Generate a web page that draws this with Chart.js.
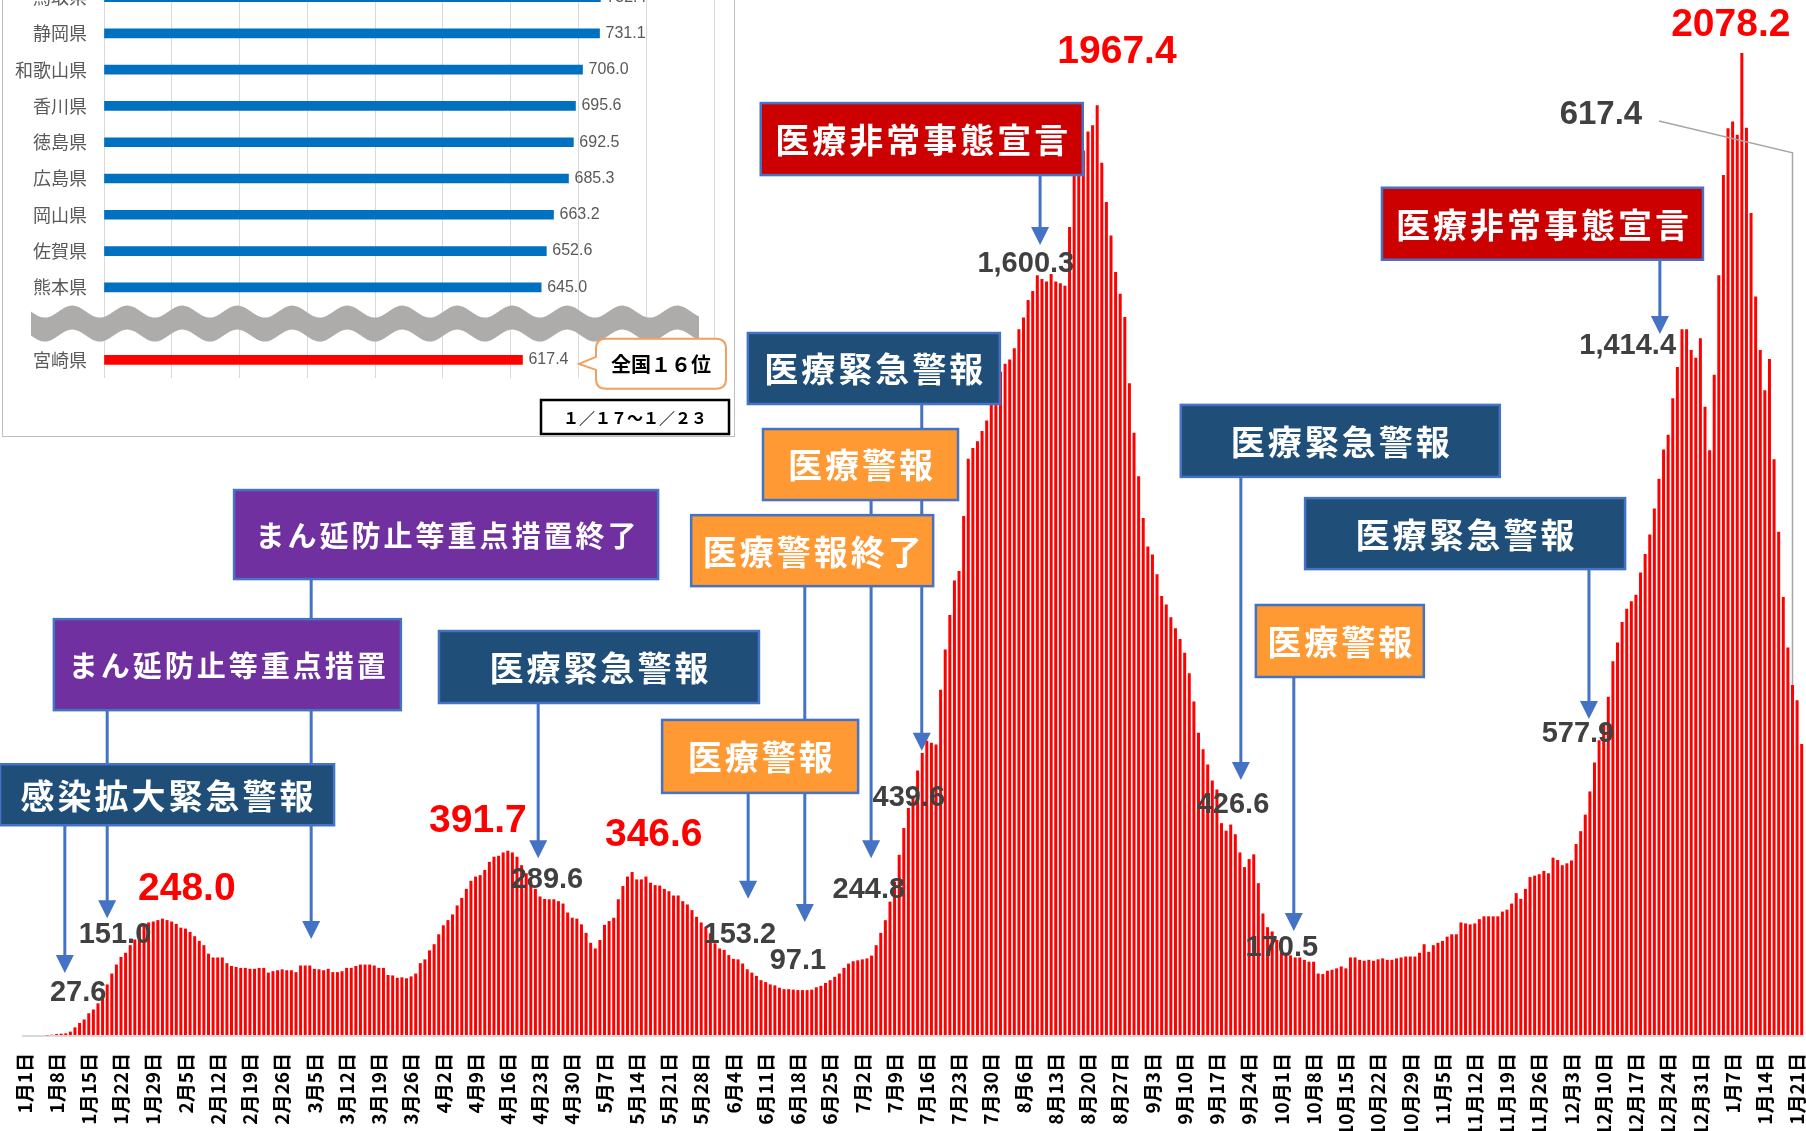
<!DOCTYPE html>
<html lang="ja">
<head>
<meta charset="utf-8">
<title>宮崎県 新規感染者数の推移</title>
<script src="https://cdn.jsdelivr.net/npm/chart.js@4.4.1/dist/chart.umd.min.js"></script>
<style>
  html, body { margin: 0; padding: 0; background: #fff; overflow: hidden; }
  #wrap { position: relative; width: 1806px; height: 1131px; }
  canvas { display: block; }
  #inset { position: absolute; left: 2px; top: -30px; width: 731px; height: 465px;
           border: 1px solid #bfbfbf; background: #fff; }
</style>
</head>
<body>
<div id="wrap">
  <canvas id="main" width="1806" height="1131"></canvas>
  <div id="inset"><canvas id="ranking" width="731" height="465"></canvas></div>
</div>
<script>
// daily values, month by month
const jan = [0, 0, 0, 0, 0, 1.4, 2.8, 4.2, 4.9, 5.6, 9.2, 18.3, 27.6, 35, 48, 56, 69, 85, 109, 132,
  151.0, 167, 176, 192, 204, 229, 234, 240, 242, 245, 248.0];
const feb = [245, 242, 237, 229, 227, 220, 211, 201, 192, 174, 166, 166, 166, 154, 148, 146, 144, 144,
  142, 142, 144, 144, 134, 137, 139, 141, 139, 139];
const mar = [135, 149, 149, 149, 142, 141, 139, 142, 135, 135, 137, 144, 144, 148, 151, 151, 151, 149,
  144, 144, 129, 128, 123, 124, 122, 126, 132, 154, 162, 181, 194];
const apr = [215, 234, 245, 257, 276, 292, 311, 328, 337, 340, 351, 368, 379, 381, 388, 391.7, 388,
  379, 361, 344, 328, 311, 295, 289.6, 289, 289, 285, 280, 261, 250];
const may = [248, 236, 218, 197, 185, 203, 235, 243, 250, 289, 317, 337, 346.6, 331, 331, 337, 324,
  319, 318, 311, 306, 297, 297, 285, 278, 266, 252, 240, 231, 217, 196];
const jun = [185, 182, 171, 163, 162, 153.2, 141, 134, 127, 118, 114, 109, 107, 102, 99, 99, 98, 97.1,
  97, 97, 98, 103, 106, 112, 118, 125, 132, 144, 153, 158];
const jul = [160, 162, 164, 170, 192, 218, 244.8, 284, 326, 383, 439.6, 482, 508, 561, 598, 624, 620,
  616, 732, 817, 890, 963, 983, 1099, 1220, 1243, 1257, 1279, 1301, 1338, 1351];
const aug = [1404, 1421, 1430, 1454, 1494, 1519, 1556, 1575, 1608, 1600.3, 1595, 1611, 1595, 1591,
  1586, 1710, 1852, 1885, 1872, 1912, 1925, 1967.4, 1846, 1763, 1692, 1615, 1569, 1520, 1380, 1275, 1183];
const sep = [1095, 1035, 1018, 976, 930, 912, 885, 862, 839, 810, 767, 707, 641, 606, 574, 540, 521,
  450, 434, 447, 426.6, 388, 357, 374, 384, 323, 259, 230, 221, 203];
const oct = [185, 176, 170.5, 166, 166, 161, 157, 157, 132, 131, 138, 140, 143, 147, 143, 166, 166,
  161, 159, 161, 159, 162, 164, 161, 161, 164, 166, 168, 168, 168, 176];
const nov = [194, 178, 192, 197, 201, 210, 215, 215, 240, 238, 236, 238, 247, 253, 253, 253, 253, 263,
  267, 280, 302, 290, 311, 336, 339, 342, 349, 344, 377, 372];
const dec = [361, 365, 371, 406, 433, 468, 517, 577.9, 625, 662, 717, 792, 832, 875, 903, 919, 933,
  980, 1019, 1060, 1115, 1178, 1240, 1271, 1348, 1414.4, 1494, 1494, 1450, 1434, 1475];
const janNext = [1330, 1238, 1398, 1608, 1820, 1919, 1933, 1905, 2078.2, 1920, 1740, 1563, 1450,
  1365, 1431, 1219, 1066, 928, 821, 742, 710, 617.4];

const cases = [].concat(jan, feb, mar, apr, may, jun, jul, aug, sep, oct, nov, dec, janNext);

const tickLabels = ['1月1日', '1月8日', '1月15日', '1月22日', '1月29日', '2月5日', '2月12日', '2月19日',
  '2月26日', '3月5日', '3月12日', '3月19日', '3月26日', '4月2日', '4月9日', '4月16日', '4月23日', '4月30日',
  '5月7日', '5月14日', '5月21日', '5月28日', '6月4日', '6月11日', '6月18日', '6月25日', '7月2日', '7月9日',
  '7月16日', '7月23日', '7月30日', '8月6日', '8月13日', '8月20日', '8月27日', '9月3日', '9月10日', '9月17日',
  '9月24日', '10月1日', '10月8日', '10月15日', '10月22日', '10月29日', '11月5日', '11月12日', '11月19日',
  '11月26日', '12月3日', '12月10日', '12月17日', '12月24日', '12月31日', '1月7日', '1月14日', '1月21日'];

// one category per day
const days = cases.map((_, i) => {
  const d = new Date(2022, 0, 1 + i);
  return (d.getMonth() + 1) + '月' + d.getDate() + '日';
});

// inset ranking (per 100k, 1/17-1/23)
const prefectures = ['鳥取県', '静岡県', '和歌山県', '香川県', '徳島県', '広島県', '岡山県', '佐賀県', '熊本県', '', '宮崎県'];
const rates = [732.4, 731.1, 706.0, 695.6, 692.5, 685.3, 663.2, 652.6, 645.0, null, 617.4];

// alert boxes: centre in (day index, value), arrow at day index down to value
const alerts = [
  { text: 'まん延防止等重点措置終了', kind: 'purple', cx: 91.6, cy: 1060, w: 424, h: 89, ax: 62.3, tip: 205 },
  { text: 'まん延防止等重点措置', kind: 'purple', cx: 44.1, cy: 785, w: 347, h: 91, ax: 18.0, tip: 249 },
  { text: '感染拡大緊急警報', kind: 'navy', cx: 31.0, cy: 510, w: 334, h: 61, ax: 8.8, tip: 133 },
  { text: '医療緊急警報', kind: 'navy', cx: 124.8, cy: 780, w: 320, h: 72, ax: 111.6, tip: 376 },
  { text: '医療緊急警報', kind: 'navy', cx: 184.5, cy: 1411, w: 252, h: 71, ax: 194.9, tip: 603 },
  { text: '医療警報', kind: 'orange', cx: 181.6, cy: 1208, w: 195, h: 71, ax: 183.9, tip: 376 },
  { text: '医療警報終了', kind: 'orange', cx: 171.1, cy: 1026, w: 242, h: 71, ax: 169.5, tip: 241 },
  { text: '医療警報', kind: 'orange', cx: 159.8, cy: 591, w: 196, h: 73, ax: 157.2, tip: 290 },
  { text: '医療非常事態宣言', kind: 'red', cx: 194.9, cy: 1896, w: 322, h: 72, ax: 220.6, tip: 1672 },
  { text: '医療緊急警報', kind: 'navy', cx: 285.8, cy: 1258, w: 319, h: 72, ax: 264.2, tip: 541 },
  { text: '医療警報', kind: 'orange', cx: 285.7, cy: 835, w: 168, h: 72, ax: 275.7, tip: 222 },
  { text: '医療緊急警報', kind: 'navy', cx: 312.9, cy: 1062, w: 320, h: 71, ax: 339.8, tip: 670 },
  { text: '医療非常事態宣言', kind: 'red', cx: 329.7, cy: 1717, w: 321, h: 72, ax: 355.2, tip: 1484 }
];

// [text, day index, value, font size]
const valueNotes = [
  ['27.6', 11.7, 91, 29], ['151.0', 19.7, 213, 29], ['289.6', 113.5, 330, 29], ['153.2', 155.4, 213, 29],
  ['97.1', 168.0, 159, 29], ['244.8', 183.4, 309, 29], ['439.6', 192.1, 503, 29], ['1,600.3', 217.5, 1632, 29],
  ['426.6', 262.5, 488, 29], ['170.5', 273.1, 186, 29], ['577.9', 337.4, 638, 29], ['1,414.4', 348.2, 1459, 29],
  ['617.4', 342.4, 1947, 33]
];
const peakNotes = [
  ['248.0', 35.3, 311], ['391.7', 98.5, 454], ['346.6', 136.7, 425],
  ['1967.4', 237.3, 2080], ['2078.2', 370.6, 2137]
];

const JP = '"Noto Sans CJK JP", "Noto Sans", sans-serif';
const NUM = '"Liberation Sans", Arial, sans-serif';

const boxStyles = {
  navy:   { fill: '#1F4E79', size: 34, spacing: 3 },
  orange: { fill: '#FF9933', size: 34, spacing: 3 },
  red:    { fill: '#CC0000', size: 34, spacing: 3 },
  purple: { fill: '#7030A0', size: 29, spacing: 3 }
};

const notesPlugin = {
  id: 'notes',
  afterDatasetsDraw(chart) {
    const ctx = chart.ctx;
    const X = v => chart.scales.x.getPixelForValue(v);
    const Y = v => chart.scales.y.getPixelForValue(v);
    ctx.save();

    // arrows first, the boxes sit on top of them
    ctx.strokeStyle = '#4472C4';
    ctx.fillStyle = '#4472C4';
    ctx.lineWidth = 3;
    alerts.forEach(a => {
      const x = X(a.ax), top = Y(a.cy) + a.h / 2, tip = Y(a.tip);
      ctx.beginPath();
      ctx.moveTo(x, top);
      ctx.lineTo(x, tip - 14);
      ctx.stroke();
      ctx.beginPath();
      ctx.moveTo(x - 9, tip - 18);
      ctx.lineTo(x + 9, tip - 18);
      ctx.lineTo(x, tip);
      ctx.closePath();
      ctx.fill();
    });

    alerts.forEach(a => {
      const s = boxStyles[a.kind];
      const cx = X(a.cx), cy = Y(a.cy);
      ctx.fillStyle = s.fill;
      ctx.fillRect(cx - a.w / 2, cy - a.h / 2, a.w, a.h);
      ctx.lineWidth = 2.5;
      ctx.strokeStyle = '#4472C4';
      ctx.strokeRect(cx - a.w / 2, cy - a.h / 2, a.w, a.h);
      ctx.fillStyle = '#fff';
      ctx.font = 'bold ' + s.size + 'px ' + JP;
      ctx.letterSpacing = s.spacing + 'px';
      ctx.textAlign = 'center';
      ctx.textBaseline = 'middle';
      ctx.fillText(a.text, cx + s.spacing / 2, cy + 1);
    });
    ctx.letterSpacing = '0px';

    // leader line of the last value
    ctx.strokeStyle = '#A6A6A6';
    ctx.lineWidth = 1.5;
    ctx.beginPath();
    ctx.moveTo(X(355), Y(1934));
    ctx.lineTo(X(384), Y(1867));
    ctx.lineTo(X(384), Y(cases[384]));
    ctx.stroke();

    ctx.textAlign = 'center';
    ctx.textBaseline = 'middle';
    ctx.fillStyle = '#404040';
    valueNotes.forEach(([t, i, v, size]) => {
      ctx.font = 'bold ' + size + 'px ' + NUM;
      ctx.fillText(t, X(i), Y(v));
    });
    ctx.fillStyle = '#FF0000';
    ctx.font = 'bold 39px ' + NUM;
    peakNotes.forEach(([t, i, v]) => ctx.fillText(t, X(i), Y(v)));
    ctx.restore();
  }
};

new Chart(document.getElementById('main'), {
  type: 'bar',
  data: {
    labels: days,
    datasets: [{
      data: cases,
      backgroundColor: '#FF0000',
      borderWidth: 0,
      barPercentage: 0.65,
      categoryPercentage: 1.0
    }]
  },
  options: {
    responsive: false,
    devicePixelRatio: 1,
    animation: false,
    layout: { padding: { left: 22, right: 2, top: 0, bottom: 0 } },
    plugins: { legend: { display: false }, tooltip: { enabled: false } },
    scales: {
      x: {
        grid: { display: false, drawTicks: false },
        border: { display: false },
        afterFit: s => { s.height = 95; s.paddingLeft = 0; s.paddingRight = 0; },
        ticks: {
          autoSkip: false,
          maxRotation: 90,
          minRotation: 90,
          padding: 17,
          color: '#000',
          font: { family: JP, size: 19, weight: 'bold' },
          callback: (v, i) => (i % 7 === 0 ? tickLabels[i / 7] : null)
        }
      },
      y: {
        min: 0,
        max: 2190,
        afterFit: s => { s.width = 0; s.paddingTop = 0; s.paddingBottom = 0; },
        border: { display: false },
        ticks: { display: false, stepSize: 200 },
        grid: {
          drawTicks: false,
          lineWidth: 2,
          color: c => (c.tick && c.tick.value % 200 === 0 ? '#D9D9D9' : 'rgba(0,0,0,0)')
        }
      }
    }
  },
  plugins: [notesPlugin]
});

const rankingPlugin = {
  id: 'rankingExtras',
  afterDatasetsDraw(chart) {
    const { ctx, chartArea } = chart;
    const ys = chart.scales.y;
    const bars = chart.getDatasetMeta(0).data;
    ctx.save();

    // wavy break between the top rows and Miyazaki
    const c = ys.getPixelForValue(prefectures.indexOf(''));
    const x0 = chartArea.left - 73, x1 = chartArea.left + 595;
    const wave = x => 6 * Math.sin((x - x0) / 55 * 2 * Math.PI);
    ctx.fillStyle = '#AEABAB';
    ctx.beginPath();
    for (let x = x0; x <= x1; x++) ctx.lineTo(x, c - 12 + wave(x));
    for (let x = x1; x >= x0; x--) ctx.lineTo(x, c + 12 + wave(x));
    ctx.closePath();
    ctx.fill();

    ctx.font = '16px ' + NUM;
    ctx.fillStyle = '#595959';
    ctx.textAlign = 'left';
    ctx.textBaseline = 'middle';
    bars.forEach((b, i) => {
      if (rates[i] == null) return;
      ctx.fillText(rates[i].toFixed(1), b.x + 6, b.y);
    });

    // callout
    const by = bars[prefectures.indexOf('宮崎県')].y;
    const L = 593, R = 723, T = by - 21, B = by + 29, r = 10;
    ctx.beginPath();
    ctx.moveTo(L + r, T);
    ctx.lineTo(R - r, T);
    ctx.quadraticCurveTo(R, T, R, T + r);
    ctx.lineTo(R, B - r);
    ctx.quadraticCurveTo(R, B, R - r, B);
    ctx.lineTo(L + r, B);
    ctx.quadraticCurveTo(L, B, L, B - r);
    ctx.lineTo(L, by + 10);
    ctx.lineTo(576, by + 4);
    ctx.lineTo(L, by - 3);
    ctx.lineTo(L, T + r);
    ctx.quadraticCurveTo(L, T, L + r, T);
    ctx.closePath();
    ctx.fillStyle = '#fff';
    ctx.fill();
    ctx.strokeStyle = '#F0A060';
    ctx.lineWidth = 2;
    ctx.stroke();
    ctx.fillStyle = '#000';
    ctx.font = 'bold 20px ' + JP;
    ctx.textAlign = 'center';
    ctx.fillText('全国１６位', (L + R) / 2, by + 5);

    // period box
    ctx.fillStyle = '#fff';
    ctx.fillRect(538, 429, 188, 34);
    ctx.strokeStyle = '#000';
    ctx.lineWidth = 2.5;
    ctx.strokeRect(538, 429, 188, 34);
    ctx.fillStyle = '#000';
    ctx.font = 'bold 16px ' + JP;
    ctx.fillText('１／１７～１／２３', 632, 447);
    ctx.restore();
  }
};

new Chart(document.getElementById('ranking'), {
  type: 'bar',
  data: {
    labels: prefectures,
    datasets: [{
      data: rates,
      backgroundColor: rates.map((_, i) => (prefectures[i] === '宮崎県' ? '#FF0000' : '#0070C0')),
      borderWidth: 0,
      barThickness: 9
    }]
  },
  options: {
    indexAxis: 'y',
    responsive: false,
    devicePixelRatio: 1,
    animation: false,
    layout: { padding: { left: 0, right: 20, top: 8, bottom: 58 } },
    plugins: { legend: { display: false }, tooltip: { enabled: false } },
    scales: {
      x: {
        min: 0,
        max: 900,
        afterFit: s => { s.height = 0; s.paddingLeft = 0; s.paddingRight = 0; },
        border: { display: false },
        ticks: { display: false, stepSize: 100 },
        grid: { color: '#D9D9D9', lineWidth: 1, drawTicks: false }
      },
      y: {
        afterFit: s => { s.width = 101; s.paddingTop = 0; s.paddingBottom = 0; },
        border: { display: false },
        grid: { display: false, drawTicks: false },
        ticks: { padding: 17, color: '#595959', font: { family: JP, size: 18 } }
      }
    }
  },
  plugins: [rankingPlugin]
});
</script>
</body>
</html>
